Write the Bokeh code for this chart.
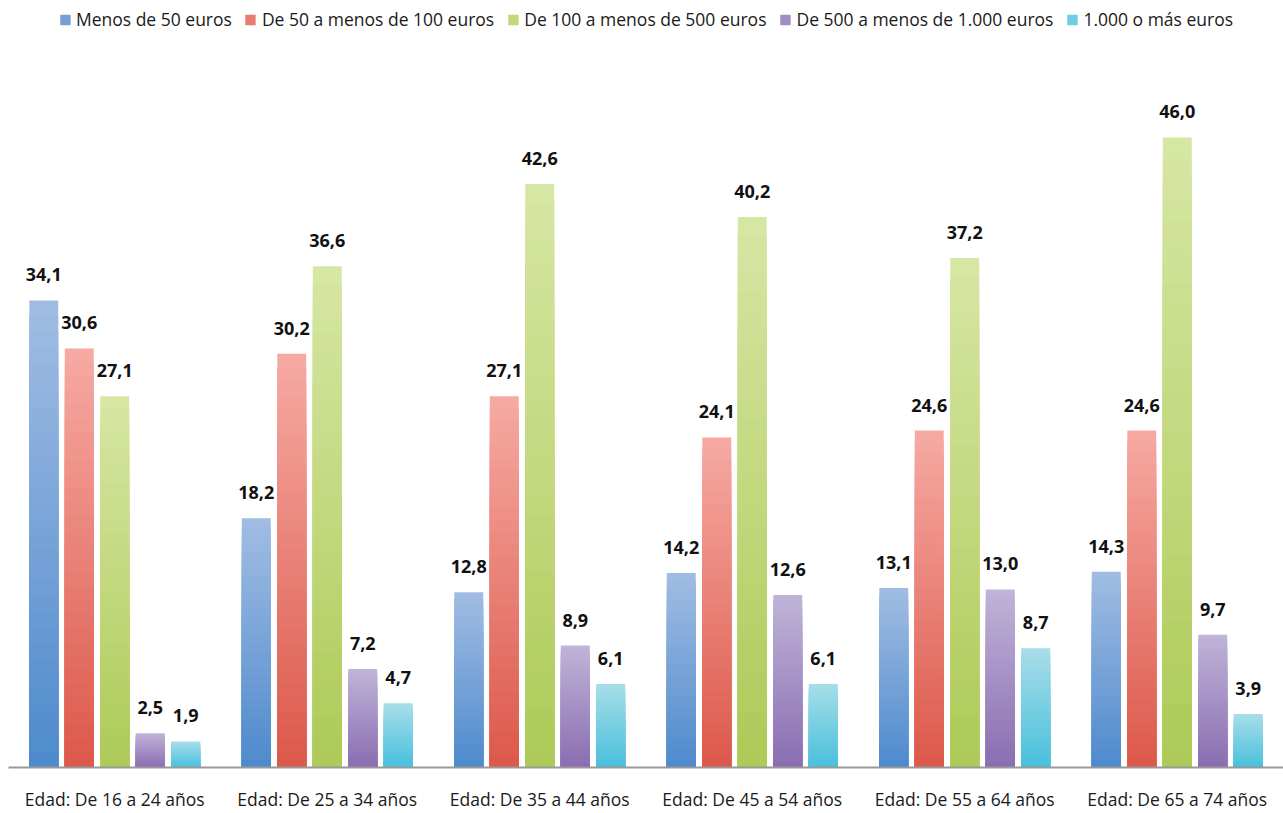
from bokeh.plotting import figure
from bokeh.models import ColumnDataSource, FactorRange, Legend, LegendItem, LabelSet
from bokeh.transform import dodge
from bokeh.embed import file_html
from bokeh.resources import INLINE
from bokeh.core.properties import value

groups = ["Edad: De 16 a 24 años", "Edad: De 25 a 34 años", "Edad: De 35 a 44 años",
          "Edad: De 45 a 54 años", "Edad: De 55 a 64 años", "Edad: De 65 a 74 años"]
series_names = ["Menos de 50 euros", "De 50 a menos de 100 euros", "De 100 a menos de 500 euros",
                "De 500 a menos de 1.000 euros", "1.000 o más euros"]
menos_50 = [34.1, 18.2, 12.8, 14.2, 13.1, 14.3]
de_50_100 = [30.6, 30.2, 27.1, 24.1, 24.6, 24.6]
de_100_500 = [27.1, 36.6, 42.6, 40.2, 37.2, 46.0]
de_500_1000 = [2.5, 7.2, 8.9, 12.6, 13.0, 9.7]
mas_1000 = [1.9, 4.7, 6.1, 6.1, 8.7, 3.9]
series_values = [menos_50, de_50_100, de_100_500, de_500_1000, mas_1000]

top_colors = ["#a1bde3", "#f6aaa3", "#d7e6a4", "#c0b4d8", "#a8dde9"]
bottom_colors = ["#4e8acc", "#dc584a", "#adca57", "#8a6db1", "#48c0dc"]

FONT = "Open Sans, sans-serif"

p = figure(width=1283, height=813, x_range=FactorRange(*groups, range_padding=0),
           y_range=(0, 56.0), output_backend="svg", toolbar_location=None,
           min_border_left=8, min_border_right=0, min_border_top=0, min_border_bottom=46)
p.outline_line_color = None
p.background_fill_color = "white"
p.border_fill_color = "white"
p.grid.visible = False
p.yaxis.visible = False
p.xaxis.axis_line_color = "#999999"
p.xaxis.axis_line_width = 2
p.xaxis.major_tick_line_color = None
p.xaxis.minor_tick_line_color = None
p.xaxis.major_tick_out = 0
p.xaxis.major_tick_in = 0
p.xaxis.major_label_text_font = FONT
p.xaxis.major_label_text_font_size = "17.5px"
p.xaxis.major_label_text_color = "#1a1a1a"
p.xaxis.major_label_standoff = 19


def hex2rgb(h):
    return tuple(int(h[i:i + 2], 16) for i in (1, 3, 5))


def mix(c1, c2, t):
    a, b = hex2rgb(c1), hex2rgb(c2)
    return "#%02x%02x%02x" % tuple(round(a[k] + (b[k] - a[k]) * t) for k in range(3))


pitch = 0.167
bar_w = 0.136
N = 30
legend_items = []
for i, (name, vals) in enumerate(zip(series_names, series_values)):
    off = (i - 2) * pitch
    xs, tops, cols = [], [], []
    # overlapping slices from tallest (light top) to shortest (dark bottom): vertical gradient without seams
    for j in range(N - 1, -1, -1):
        for g, v in zip(groups, vals):
            xs.append(g)
            tops.append(v * (j + 1) / N)
            cols.append(mix(bottom_colors[i], top_colors[i], (j + 0.5) / N))
    src = ColumnDataSource(dict(x=xs, top=tops, color=cols))
    p.vbar(x=dodge("x", off, range=p.x_range), bottom=0, top="top", width=bar_w,
           fill_color="color", line_color=None, source=src)
    lr = p.vbar(x=[groups[0]], top=[0], width=0,
                fill_color=mix(bottom_colors[i], top_colors[i], 0.45), line_color=None)
    legend_items.append(LegendItem(label=name, renderers=[lr]))

    lab_src = ColumnDataSource(dict(x=groups, y=vals, t=[f"{v:.1f}".replace(".", ",") for v in vals]))
    labels = LabelSet(x=dodge("x", off, range=p.x_range), y="y", text="t", source=lab_src,
                      text_align="center", y_offset=19, text_font=value(FONT),
                      text_font_style="bold", text_font_size="18px", text_color="#111111")
    p.add_layout(labels)

legend = Legend(items=legend_items, orientation="horizontal", location="top_center",
                label_text_font=FONT, label_text_font_size="17.5px", label_text_color="#1a1a1a",
                glyph_width=13, glyph_height=13, spacing=12, label_standoff=5,
                border_line_color=None, background_fill_alpha=0, margin=7, padding=4)
p.add_layout(legend)

open("out.html", "w").write(file_html(p, INLINE))
